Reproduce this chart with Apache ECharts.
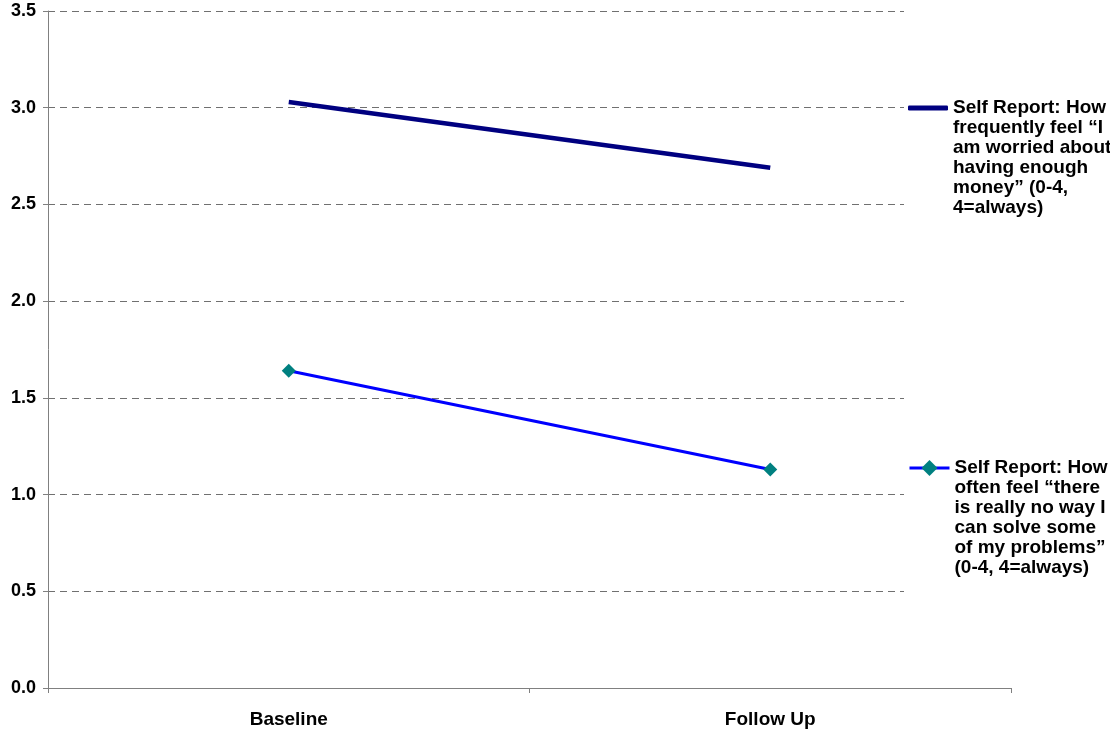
<!DOCTYPE html>
<html>
<head>
<meta charset="utf-8">
<script src="https://cdn.jsdelivr.net/npm/echarts@6/dist/echarts.min.js"></script>
<style>
  html, body { margin: 0; padding: 0; background: #fff; }
  #chart { width: 1110px; height: 729px; }
</style>
</head>
<body>
<div id="chart"></div>
<script>
// Time points on the category axis
const categories = ['Baseline', 'Follow Up'];

// Series names (legend labels, wrapped as shown)
const worriedName = 'Self Report: How\nfrequently feel \u201cI\nam worried about\nhaving enough\nmoney\u201d (0-4,\n4=always)';
const noWayName = 'Self Report: How\noften feel \u201cthere\nis really no way I\ncan solve some\nof my problems\u201d\n(0-4, 4=always)';

// Mean scores at each time point
const worriedValues = [3.03, 2.69];
const noWayValues = [1.64, 1.13];

// Value axis ticks
const yMin = 0, yMax = 3.5, yStep = 0.5;

const FONT = '"Liberation Sans", Arial, sans-serif';
const LINE_H = 20;

// Legend text is centred on its icon; leading blank lines move the
// first line of the wrapped label level with the icon.
function topAligned(name) {
  const n = name.split('\n').length;
  return '\n'.repeat(n - 1) + name;
}

const legendTextStyle = {
  fontFamily: FONT, fontSize: 19, fontWeight: 'bold', color: '#000', lineHeight: LINE_H
};

const chart = echarts.init(document.getElementById('chart'), null, { renderer: 'canvas' });

chart.setOption({
  backgroundColor: '#fff',
  animation: false,
  grid: { left: 48, right: 99, top: 11, bottom: 41, containLabel: false },
  xAxis: {
    type: 'category',
    data: categories,
    boundaryGap: true,
    axisLine: { lineStyle: { color: '#808080', width: 1 } },
    axisTick: { show: true, alignWithLabel: false, length: 5, lineStyle: { color: '#808080' } },
    axisLabel: { margin: 22, fontFamily: FONT, fontSize: 19, fontWeight: 'bold', color: '#000' },
    splitLine: { show: false }
  },
  yAxis: {
    type: 'value',
    min: yMin, max: yMax, interval: yStep,
    axisLine: { show: true, lineStyle: { color: '#808080', width: 1 } },
    axisTick: { show: true, length: 5, lineStyle: { color: '#808080' } },
    axisLabel: {
      margin: 12, fontFamily: FONT, fontSize: 18, fontWeight: 'bold', color: '#000',
      formatter: v => v.toFixed(1)
    },
    splitLine: { show: true, lineStyle: { color: '#707070', type: [7, 5], width: 1 } }
  },
  graphic: [{
    // legend panel background, hides the gridlines behind the legend
    type: 'rect', left: 904, top: 0, z: 5, silent: true,
    shape: { width: 206, height: 640 },
    style: { fill: '#fff' }
  }],
  legend: [
    {
      data: [{ name: worriedName, icon: 'roundRect' }],
      orient: 'vertical', left: 908, top: -2, padding: 0,
      itemWidth: 40, itemHeight: 5, itemGap: 0, z: 10,
      formatter: topAligned,
      textStyle: legendTextStyle
    },
    {
      data: [noWayName],
      orient: 'vertical', left: 908, top: 358, padding: 0,
      itemWidth: 40, itemHeight: 20, itemGap: 0, z: 10,
      lineStyle: { width: 3 },
      formatter: topAligned,
      textStyle: legendTextStyle
    }
  ],
  series: [
    {
      name: worriedName, type: 'line', data: worriedValues,
      symbol: 'none', showSymbol: false,
      lineStyle: { color: '#000080', width: 4.5 },
      itemStyle: { color: '#000080' }
    },
    {
      name: noWayName, type: 'line', data: noWayValues,
      symbol: 'diamond', symbolSize: 14, showSymbol: true,
      lineStyle: { color: '#0000FF', width: 3 },
      itemStyle: { color: '#008080' }
    }
  ]
});
</script>
</body>
</html>
